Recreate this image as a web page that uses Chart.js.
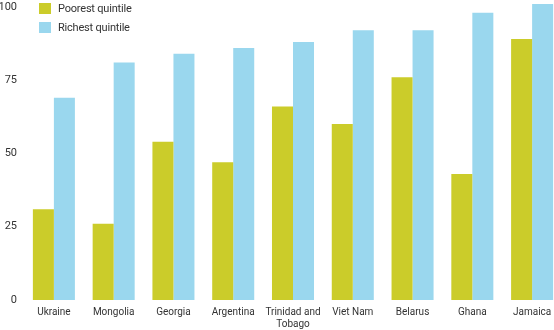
<!DOCTYPE html>
<html>
<head>
<meta charset="utf-8">
<script src="https://cdn.jsdelivr.net/npm/chart.js@4/dist/chart.umd.min.js"></script>
<style>
  html, body { margin: 0; padding: 0; background: #fff; overflow: hidden; width: 554px; height: 330px; }
  #wrap { position: relative; width: 562px; height: 330px; }
  .legend { position: absolute; left: 39px; top: 2px; font-family: Roboto, sans-serif; font-size: 11px; letter-spacing: -0.2px; color: #333; }
  .legend div { display: flex; align-items: center; height: 13px; margin-bottom: 6px; }
  .legend span { display: inline-block; width: 12px; height: 11px; margin-right: 7px; }
</style>
</head>
<body>
<div id="wrap">
  <canvas id="chart" width="562" height="330"></canvas>
  <div class="legend">
    <div><span style="background:#cbcc2a"></span>Poorest quintile</div>
    <div><span style="background:#9ad7ee"></span>Richest quintile</div>
  </div>
</div>
<script>
const countries = ['Ukraine', 'Mongolia', 'Georgia', 'Argentina', ['Trinidad and', 'Tobago'], 'Viet Nam', 'Belarus', 'Ghana', 'Jamaica'];
const poorest = [31, 26, 54, 47, 66, 60, 76, 43, 89];
const richest = [69, 81, 84, 86, 88, 92, 92, 98, 101];
const yTicks = [0, 25, 50, 75, 100];

const font = { family: 'Roboto, sans-serif', size: 10, lineHeight: 1.15 };

// drop the automatic label padding so the plot fills the canvas
const noPad = axis => {
  axis.paddingTop = 0;
  axis.paddingBottom = 0;
};

new Chart(document.getElementById('chart'), {
  type: 'bar',
  data: {
    labels: countries,
    datasets: [
      { label: 'Poorest quintile', data: poorest, backgroundColor: '#cbcc2a' },
      { label: 'Richest quintile', data: richest, backgroundColor: '#9ad7ee' },
    ],
  },
  options: {
    responsive: false,
    animation: false,
    layout: { padding: { top: 1 } },
    datasets: { bar: { categoryPercentage: 0.703, barPercentage: 1 } },
    plugins: { legend: { display: false }, tooltip: { enabled: false } },
    scales: {
      x: {
        grid: { display: false, drawTicks: false },
        border: { display: false },
        ticks: { color: '#333', font, padding: 7, maxRotation: 0, autoSkip: false },
        afterFit: axis => { axis.height = 30; },
      },
      y: {
        min: 0,
        max: 102,
        grid: { display: false, drawTicks: false },
        border: { display: false },
        ticks: { color: '#333', font: { ...font, size: 11 }, padding: 7 },
        afterBuildTicks: axis => { axis.ticks = yTicks.map(v => ({ value: v })); },
        afterFit: axis => { axis.width = 24; noPad(axis); },
      },
    },
  },
});
</script>
</body>
</html>
